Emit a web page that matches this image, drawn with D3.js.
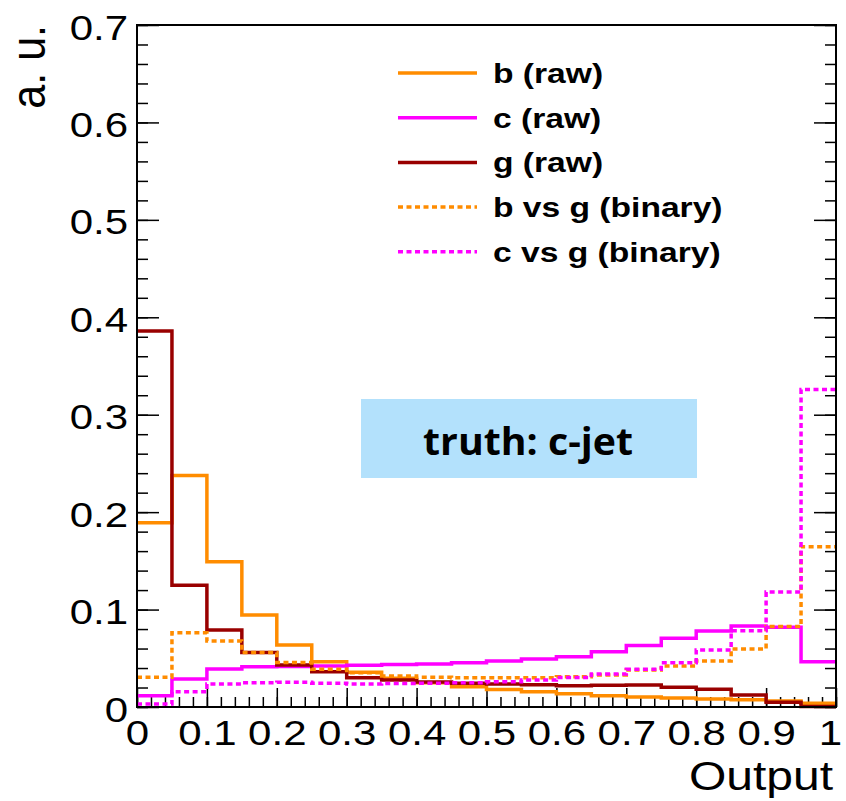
<!DOCTYPE html>
<head>
  <meta charset="utf-8">
  <script src="https://d3js.org/d3.v7.min.js"></script>
  <style>
    body { margin: 0; background: #fff; }
    text { font-family: 'Liberation Sans', Arial, sans-serif; }
    .tick line { stroke: #000; stroke-width: 1.5px; }
    .domain { display: none; }
  </style>
</head>
<body>
  <div id="my_dataviz"></div>
  <script>
    // histogram contents, 20 bins of width 0.05
    var binEdges = d3.range(21).map(i => i * 0.05);
    var bRaw = [0.189, 0.2375, 0.149, 0.0945, 0.0637, 0.0465, 0.0356, 0.0294, 0.025, 0.0209, 0.018, 0.0157, 0.0135, 0.0116, 0.0103, 0.0092, 0.0082, 0.0075, 0.0062, 0.0038];
    var cRaw = [0.0116, 0.0287, 0.039, 0.0414, 0.0415, 0.042, 0.0428, 0.0435, 0.0441, 0.0455, 0.0472, 0.0493, 0.0515, 0.0568, 0.063, 0.0705, 0.078, 0.0832, 0.0818, 0.0465];
    var gRaw = [0.386, 0.125, 0.079, 0.056, 0.0431, 0.0363, 0.0301, 0.0277, 0.0257, 0.0243, 0.0236, 0.0229, 0.0219, 0.0222, 0.0226, 0.0202, 0.0181, 0.0123, 0.0048, 0.0005];
    var bVsG = [0.0305, 0.0763, 0.0678, 0.056, 0.0456, 0.0387, 0.0352, 0.0318, 0.0305, 0.030, 0.030, 0.030, 0.031, 0.0329, 0.038, 0.042, 0.0472, 0.0595, 0.0825, 0.1646];
    var cVsG = [0.003, 0.0157, 0.0236, 0.025, 0.0253, 0.0243, 0.0236, 0.024, 0.0243, 0.025, 0.026, 0.0277, 0.0303, 0.0339, 0.0387, 0.0455, 0.0585, 0.0783, 0.118, 0.326];

    var seriesNames = ["b (raw)", "c (raw)", "g (raw)", "b vs g (binary)", "c vs g (binary)"];
    var seriesValues = [bRaw, cRaw, gRaw, bVsG, cVsG];
    var seriesColors = ["#ff8c00", "#ff00ff", "#990000", "#ff8c00", "#ff00ff"];
    var seriesDashed = [false, false, false, true, true];

    var xTickValues = d3.range(11).map(i => i / 10);
    var xTickLabels = ["0", "0.1", "0.2", "0.3", "0.4", "0.5", "0.6", "0.7", "0.8", "0.9", "1"];
    var yTickValues = d3.range(8).map(i => i / 10);
    var yTickLabels = ["0", "0.1", "0.2", "0.3", "0.4", "0.5", "0.6", "0.7"];
    var minorTicks = d3.range(51).map(i => i * 0.02);

    var xTitle = "Output";
    var yTitle = "a. u.";
    var boxLabel = "truth: c-jet";

    var margin = {top: 25, right: 10, bottom: 94, left: 137},
      width = 836 - margin.left,
      height = 707 - margin.top;
    var stretch = 1.2; // the reference text is drawn a bit wide

    var svg = d3.select("#my_dataviz")
      .append("svg")
      .attr("width", 846)
      .attr("height", 801);

    var x = d3.scaleLinear().domain([0, 1]).range([margin.left, margin.left + width]);
    var y = d3.scaleLinear().domain([0, 0.7]).range([margin.top + height, margin.top]);

    // minor + major ticks, pointing inward
    var yMinor = minorTicks.filter(d => d <= 0.7001);
    svg.append("g")
      .attr("transform", `translate(${margin.left},0)`)
      .call(d3.axisLeft(y).tickValues(yMinor).tickSizeInner(-11).tickSizeOuter(0).tickFormat(""));
    svg.append("g")
      .attr("transform", `translate(${margin.left + width},0)`)
      .call(d3.axisRight(y).tickValues(yMinor).tickSizeInner(-11).tickSizeOuter(0).tickFormat(""));
    svg.append("g")
      .attr("transform", `translate(${margin.left + width},0)`)
      .call(d3.axisRight(y).tickValues(yTickValues).tickSizeInner(-22).tickSizeOuter(0).tickFormat(""));
    svg.append("g")
      .attr("transform", `translate(0,${margin.top + height})`)
      .call(d3.axisBottom(x).tickValues(minorTicks).tickSizeInner(-10).tickSizeOuter(0).tickFormat(""));

    var yAxis = svg.append("g")
      .attr("class", "y-axis")
      .attr("transform", `translate(${margin.left},0)`)
      .call(d3.axisLeft(y).tickValues(yTickValues).tickSizeInner(-22).tickSizeOuter(0)
        .tickFormat((d, i) => yTickLabels[i]));
    yAxis.selectAll("text")
      .attr("x", null).attr("dy", null)
      .attr("transform", "translate(-9,14) scale(" + stretch + ",1)")
      .style("font-size", "35px").style("fill", "#000");

    var xAxis = svg.append("g")
      .attr("class", "x-axis")
      .attr("transform", `translate(0,${margin.top + height})`)
      .call(d3.axisBottom(x).tickValues(xTickValues).tickSizeInner(-19).tickSizeOuter(0)
        .tickFormat((d, i) => xTickLabels[i]));
    xAxis.selectAll("text")
      .attr("y", null).attr("dy", null)
      .attr("transform", (d, i) => "translate(" + (i === xTickLabels.length - 1 ? -6 : 0) + ",38) scale(" + stretch + ",1)")
      .style("font-size", "35px").style("fill", "#000");

    // annotation box
    svg.append("rect")
      .attr("x", 361).attr("y", 399)
      .attr("width", 336).attr("height", 79)
      .style("fill", "#b3e1fc");
    svg.append("text")
      .attr("x", 528).attr("y", 455)
      .attr("text-anchor", "middle")
      .attr("textLength", 210)
      .attr("lengthAdjust", "spacingAndGlyphs")
      .style("font-family", "'Open Sans', sans-serif")
      .style("font-weight", 700)
      .style("font-size", "38px")
      .text(boxLabel);

    // histograms
    var line = d3.line()
      .curve(d3.curveStepAfter)
      .x(d => x(d[0]))
      .y(d => y(d[1]));

    seriesValues.forEach(function (vals, k) {
      var pts = vals.map((v, i) => [binEdges[i], v]);
      pts.push([1, vals[vals.length - 1]]);
      svg.append("path")
        .datum(pts)
        .attr("d", line)
        .style("fill", "none")
        .style("stroke", seriesColors[k])
        .style("stroke-width", 3.5)
        .style("stroke-dasharray", seriesDashed[k] ? "5,3.5" : null);
    });

    // frame
    svg.append("rect")
      .attr("x", margin.left).attr("y", margin.top)
      .attr("width", width).attr("height", height)
      .style("fill", "none")
      .style("stroke", "#000")
      .style("stroke-width", 2);

    // legend
    var legend = svg.append("g")
      .selectAll("g")
      .data(seriesNames)
      .enter()
      .append("g")
      .attr("transform", (d, i) => `translate(398,${73 + i * 44.7})`);
    legend.append("line")
      .attr("x1", 0).attr("x2", 79)
      .style("stroke", (d, i) => seriesColors[i])
      .style("stroke-width", 3.5)
      .style("stroke-dasharray", (d, i) => seriesDashed[i] ? "5,3.5" : null);
    legend.append("text")
      .attr("transform", "translate(95,10) scale(" + stretch + ",1)")
      .style("font-size", "28px")
      .style("font-weight", 700)
      .text(d => d);

    // axis titles
    svg.append("text")
      .attr("transform", "translate(833,790) scale(" + stretch + ",1)")
      .attr("text-anchor", "end")
      .style("font-size", "40px")
      .text(xTitle);
    svg.append("text")
      .attr("transform", "translate(45,25) scale(1.1,1) rotate(-90)")
      .attr("text-anchor", "end")
      .style("font-size", "43px")
      .text(yTitle);
  </script>
</body>
